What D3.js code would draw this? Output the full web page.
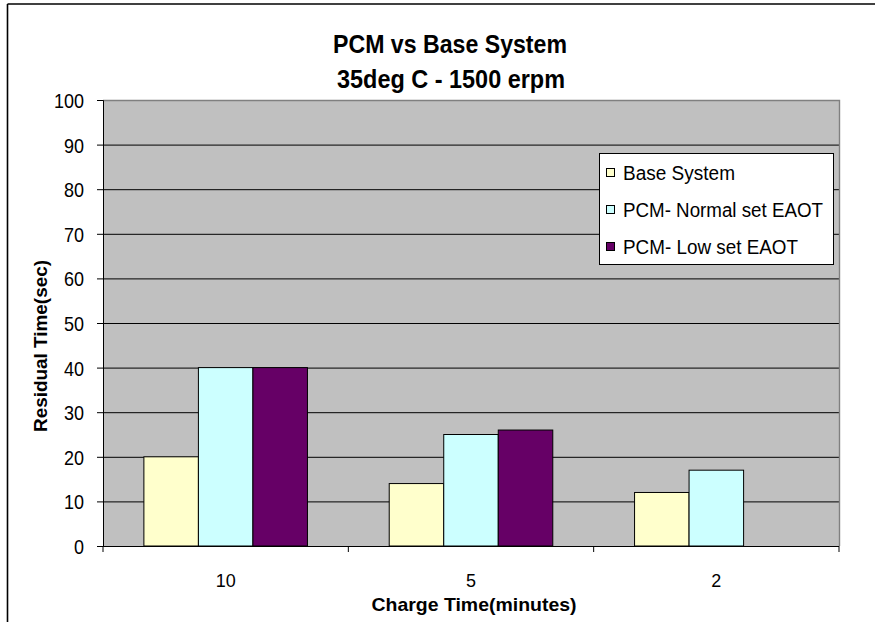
<!DOCTYPE html>
<html lang="en">
<head>
<meta charset="utf-8">
<title>PCM vs Base System</title>
<style>
  body { margin: 0; background: #fff; }
  text { font-family: "Liberation Sans", Arial, sans-serif; fill: #000; }
</style>
</head>
<body>
<script src="https://cdn.jsdelivr.net/npm/d3@7/dist/d3.min.js"></script>
<script>
  // data
  var categories = ["10", "5", "2"];
  var seriesNames = ["Base System", "PCM- Normal set EAOT", "PCM- Low set EAOT"];
  var baseSystem = [20, 14, 12];
  var pcmNormal = [40, 25, 17];
  var pcmLow = [40, 26, null];
  var yTicks = [0, 10, 20, 30, 40, 50, 60, 70, 80, 90, 100];
  var colors = ["#FFFFCC", "#CCFFFF", "#660066"];

  var w = 875, h = 622;
  var plot = { left: 103, right: 839, top: 100, bottom: 546 };

  // the original uses a tall, tightly set Arial: squeeze glyphs to the measured width
  function squeeze(sel, len) {
    sel.attr("textLength", len).attr("lengthAdjust", "spacingAndGlyphs");
  }

  var svg = d3.select("body").append("svg")
      .attr("width", w)
      .attr("height", h);

  // outer chart frame (only top and left visible)
  svg.append("line").attr("x1", 7.5).attr("x2", w).attr("y1", 4).attr("y2", 4)
    .attr("stroke", "#000").attr("stroke-width", 1.6);
  svg.append("line").attr("x1", 7.5).attr("x2", 7.5).attr("y1", 4).attr("y2", h)
    .attr("stroke", "#000").attr("stroke-width", 1.6);

  var y = d3.scaleLinear().domain([0, 100]).range([plot.bottom, plot.top]);
  var x = d3.scaleBand().domain(categories).range([plot.left, plot.right]);
  var xs = d3.scaleBand().domain(seriesNames).range([0, x.bandwidth()])
      .paddingInner(0).paddingOuter(0.75);

  // plot background
  svg.append("rect")
    .attr("x", plot.left).attr("y", plot.top)
    .attr("width", plot.right - plot.left).attr("height", plot.bottom - plot.top)
    .attr("fill", "#C0C0C0");

  // gridlines
  svg.append("g").selectAll("line")
    .data(yTicks.filter(function(d) { return d > 0 && d < 100; }))
    .join("line")
    .attr("x1", plot.left).attr("x2", plot.right)
    .attr("y1", function(d) { return y(d) + 0.5; })
    .attr("y2", function(d) { return y(d) + 0.5; })
    .attr("stroke", "#000").attr("stroke-width", 1);

  // gray border on top / right
  svg.append("path")
    .attr("d", "M" + plot.left + "," + (plot.top + 0.5) + "H" + (plot.right + 0.5) + "V" + plot.bottom)
    .attr("fill", "none").attr("stroke", "#808080").attr("stroke-width", 1.4);

  // bars
  var series = [baseSystem, pcmNormal, pcmLow];
  series.forEach(function(vals, si) {
    svg.append("g").selectAll("rect")
      .data(vals.map(function(v, i) { return { cat: categories[i], v: v }; })
        .filter(function(d) { return d.v != null; }))
      .join("rect")
      .attr("x", function(d) { return x(d.cat) + xs(seriesNames[si]); })
      .attr("y", function(d) { return y(d.v); })
      .attr("width", xs.bandwidth())
      .attr("height", function(d) { return y(0) - y(d.v); })
      .attr("fill", colors[si])
      .attr("stroke", "#000").attr("stroke-width", 1);
  });

  // y axis
  var yAxis = svg.append("g")
    .attr("transform", "translate(" + plot.left + ",0)")
    .call(d3.axisLeft(y).tickValues(yTicks).tickSizeOuter(0).tickSize(6).tickPadding(13));
  yAxis.select(".domain").attr("stroke", "#000");
  yAxis.selectAll("line").attr("stroke", "#000");
  yAxis.selectAll("text")
    .style("font-size", "21px")
    .attr("fill", "#000").attr("dy", "0.36em")
    .each(function(d) { squeeze(d3.select(this), String(d).length * 10); });

  // x axis: ticks at category boundaries
  svg.append("line")
    .attr("x1", plot.left).attr("x2", plot.right)
    .attr("y1", plot.bottom + 0.5).attr("y2", plot.bottom + 0.5)
    .attr("stroke", "#000").attr("stroke-width", 1);
  var bounds = categories.map(function(c) { return x(c); }).concat([plot.right]);
  svg.append("g").selectAll("line")
    .data(bounds)
    .join("line")
    .attr("x1", function(d) { return d; }).attr("x2", function(d) { return d; })
    .attr("y1", plot.bottom).attr("y2", plot.bottom + 6)
    .attr("stroke", "#000");
  svg.append("g").selectAll("text")
    .data(categories)
    .join("text")
    .attr("x", function(d) { return x(d) + x.bandwidth() / 2; })
    .attr("y", 587)
    .attr("text-anchor", "middle")
    .style("font-size", "19px")
    .each(function(d) { squeeze(d3.select(this), d.length * 10); })
    .text(function(d) { return d; });

  // titles
  svg.append("text")
    .attr("x", 450).attr("y", 53)
    .attr("text-anchor", "middle")
    .style("font-size", "25px").style("font-weight", "bold")
    .call(squeeze, 234)
    .text("PCM vs Base System");
  svg.append("text")
    .attr("x", 451).attr("y", 88)
    .attr("text-anchor", "middle")
    .style("font-size", "25px").style("font-weight", "bold")
    .call(squeeze, 228)
    .text("35deg C - 1500 erpm");

  svg.append("text")
    .attr("x", 474).attr("y", 611)
    .attr("text-anchor", "middle")
    .style("font-size", "19px").style("font-weight", "bold")
    .call(squeeze, 205)
    .text("Charge Time(minutes)");

  svg.append("text")
    .attr("transform", "translate(47,346) rotate(-90)")
    .attr("text-anchor", "middle")
    .style("font-size", "19px").style("font-weight", "bold")
    .call(squeeze, 172)
    .text("Residual Time(sec)");

  // legend
  var legendWidths = [112, 200, 175];
  var legend = svg.append("g");
  legend.append("rect")
    .attr("x", 599.5).attr("y", 153.5).attr("width", 234).attr("height", 111)
    .attr("fill", "#fff").attr("stroke", "#000").attr("stroke-width", 1);
  var rows = legend.selectAll("g.row")
    .data(seriesNames)
    .join("g")
    .attr("class", "row")
    .attr("transform", function(d, i) { return "translate(0," + (173 + i * 37) + ")"; });
  rows.append("rect")
    .attr("x", 606.5).attr("y", -4.5).attr("width", 8).attr("height", 8)
    .attr("fill", function(d, i) { return colors[i]; })
    .attr("stroke", "#000").attr("stroke-width", 1);
  rows.append("text")
    .attr("x", 623).attr("y", 0).attr("dy", "0.36em")
    .style("font-size", "20px")
    .each(function(d, i) { squeeze(d3.select(this), legendWidths[i]); })
    .text(function(d) { return d; });
</script>
</body>
</html>
